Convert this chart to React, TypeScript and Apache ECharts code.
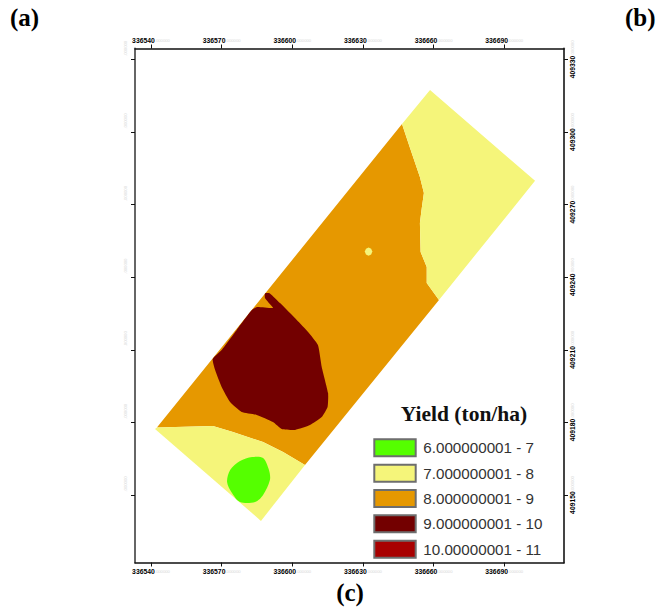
import React, { useEffect, useRef } from "react";
import * as echarts from "echarts";

const xTicks = [336540, 336570, 336600, 336630, 336660, 336690];
const yTicks = [409150, 409180, 409210, 409240, 409270, 409300, 409330];
const classNames = ["6.000000001 - 7", "7.000000001 - 8", "8.000000001 - 9", "9.000000001 - 10", "10.00000001 - 11"];
const classColors = ["#55ff00", "#f5f57a", "#e69800", "#730000", "#a80000"];

const greenZones = [
  [[336582.9, 409165.7], [336587.6, 409165.3], [336590.1, 409160.3], [336590.5, 409156.2], [336587.6, 409150], [336584.2, 409147.1], [336577.8, 409147.1], [336574.4, 409150.8], [336572.3, 409155.4], [336573.6, 409160.3], [336577.8, 409164]],
];
const yellowZones = [
  [[336646.6, 409303.3], [336658.5, 409317.4], [336703.1, 409279.8], [336662.3, 409230.6], [336657.1, 409237.6], [336657.1, 409244.2], [336654.5, 409250.4], [336654.2, 409262.4], [336655, 409268.6], [336655.9, 409274.8], [336654.2, 409281.4], [336650, 409293.4]],
  [[336541.7, 409177.3], [336542.5, 409177.9], [336566.3, 409178.5], [336574.8, 409176], [336587.6, 409171.9], [336596.1, 409167.8], [336605.4, 409162.4], [336586.7, 409139.3]],
  [[336634, 409250.6], [336633.5, 409251.8], [336632.4, 409252.3], [336631.3, 409251.8], [336630.8, 409250.6], [336631.3, 409249.4], [336632.4, 409248.9], [336633.5, 409249.4]],
];
const orangeZones = [
  [[336542.5, 409177.9], [336646.6, 409303.3], [336650, 409293.4], [336654.2, 409281.4], [336655.9, 409274.8], [336655, 409268.6], [336654.2, 409262.4], [336654.5, 409250.4], [336657.1, 409244.2], [336657.1, 409237.6], [336662.3, 409230.6], [336605.4, 409162.4], [336596.1, 409167.8], [336587.6, 409171.9], [336574.8, 409176], [336566.3, 409178.5]],
];
const darkZones = [
  [[336588.4, 409233.3], [336590.5, 409233.3], [336594.8, 409229.3], [336601.9, 409222.3], [336606.7, 409217.4], [336610.9, 409212], [336612.5, 409202.9], [336615.2, 409192.1], [336615, 409186.4], [336612.5, 409182.2], [336607.5, 409178.9], [336601.2, 409176.9], [336595.5, 409177.3], [336591.8, 409180.2], [336584.9, 409183.1], [336578.5, 409184.3], [336573.6, 409188.4], [336570, 409194.6], [336567.2, 409201.7], [336566.2, 409206.2], [336570, 409209.9], [336576.4, 409218.2], [336582.8, 409226.4], [336585, 409227.7], [336591.8, 409227.3], [336590.1, 409229.3], [336588.4, 409231.4]],
];
const redZones: number[][][] = [];
const classZones = [greenZones, yellowZones, orangeZones, darkZones, redZones];
const classOrder = [5, 4, 2, 3, 5];
const classSmooth = [0.3, 0, 0, 0.15, 0];

const X_MIN = 336533.2;
const X_MAX = 336715.4;
const Y_MIN = 409122.1;
const Y_MAX = 409334.5;

const richStyles = {
  a: { fontFamily: "Liberation Sans", fontSize: 6.8, fontWeight: "bold", color: "#000" },
  b: { fontFamily: "Liberation Sans", fontSize: 4.2, color: "#d6d6d6" },
};
const fullLabel = (v: number) => `{a|${v}}{b|.000000}`;
const faintLabel = () => `{b|.000000}`;

function buildOption() {
  const sharedAxis = { type: "value", splitLine: { show: false }, axisLine: { onZero: false } };
  const xAxis = (position: string, color: string, width: number) => ({
    ...sharedAxis,
    position,
    min: X_MIN,
    max: X_MAX,
    axisLine: { show: true, onZero: false, lineStyle: { color, width } },
    axisTick: { show: true, length: 4, customValues: xTicks, lineStyle: { color: "#111", width: 1 } },
    axisLabel: { show: true, margin: 5, customValues: xTicks, formatter: fullLabel, rich: richStyles, hideOverlap: false },
  });
  const yAxis = (position: string, color: string, width: number, faint: boolean) => ({
    ...sharedAxis,
    position,
    min: Y_MIN,
    max: Y_MAX,
    axisLine: { show: true, onZero: false, lineStyle: { color, width } },
    axisTick: { show: true, length: 4, customValues: yTicks, lineStyle: { color: "#111", width: 1 } },
    axisLabel: {
      show: true,
      rotate: 90,
      margin: faint ? 8 : 5,
      customValues: yTicks,
      formatter: faint ? faintLabel : fullLabel,
      rich: richStyles,
      hideOverlap: false,
      padding: faint ? [0, 0, 0, 22] : 0,
    },
  });
  return {
    animation: false,
    backgroundColor: "#ffffff",
    grid: { left: 135, right: 92, top: 48.5, bottom: 49.5, containLabel: false },
    xAxis: [xAxis("bottom", "#111", 1.5), xAxis("top", "#111", 1.5)],
    yAxis: [yAxis("left", "#666", 2, true), yAxis("right", "#444", 2, false)],
    legend: {
      show: true,
      orient: "vertical",
      left: 373.3,
      top: 438.3,
      padding: 0,
      itemWidth: 41.4,
      itemHeight: 17,
      itemGap: 6.35,
      icon: "rect",
      selectedMode: false,
      itemStyle: { borderColor: "#6e6e6e", borderWidth: 2 },
      textStyle: { fontFamily: "Liberation Sans", fontSize: 15.2, lineHeight: 17, color: "#333", padding: [0, 0, 0, 2.6] },
      data: classNames,
    },
    series: classNames.map((name, c) => ({
      name,
      type: "custom",
      coordinateSystem: "cartesian2d",
      xAxisIndex: 0,
      yAxisIndex: 0,
      z: classOrder[c],
      itemStyle: { color: classColors[c] },
      data: classZones[c].map((_, i) => [i, 0]),
      renderItem: (_params: any, api: any) => {
        const zone = classZones[c][api.value(0)];
        return {
          type: "polygon",
          shape: { points: zone.map((p) => api.coord(p)), smooth: classSmooth[c] },
          style: { fill: classColors[c], stroke: null },
        };
      },
    })),
    graphic: [
      { type: "text", x: 10, y: 17, style: { text: "(a)", font: "bold 25px 'Liberation Serif'", fill: "#000", textVerticalAlign: "middle" } },
      { type: "text", x: 625, y: 17, style: { text: "(b)", font: "bold 25px 'Liberation Serif'", fill: "#000", textVerticalAlign: "middle" } },
      { type: "text", x: 350, y: 592, style: { text: "(c)", font: "bold 25px 'Liberation Serif'", fill: "#000", textAlign: "center", textVerticalAlign: "middle" } },
      { type: "text", x: 464, y: 414, style: { text: "Yield (ton/ha)", font: "bold 21.5px 'Liberation Serif'", fill: "#111", textAlign: "center", textVerticalAlign: "middle" } },
    ],
  };
}

export default function App() {
  const ref = useRef<HTMLDivElement>(null);
  useEffect(() => {
    const chart = echarts.init(ref.current!, undefined, { renderer: "svg" });
    chart.setOption(buildOption() as any);
    return () => chart.dispose();
  }, []);
  return <div ref={ref} style={{ position: "absolute", left: 0, top: 0, width: 656, height: 612 }} />;
}
